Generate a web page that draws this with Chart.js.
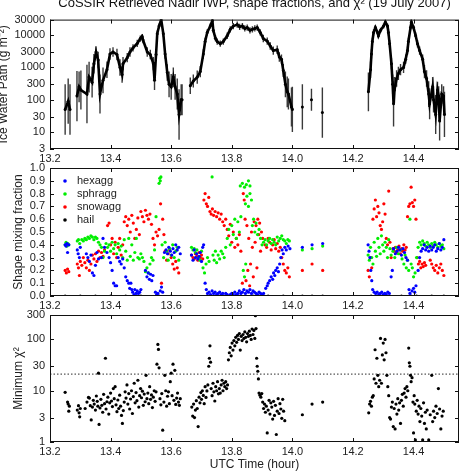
<!DOCTYPE html>
<html>
<head>
<meta charset="utf-8">
<script src="https://cdn.jsdelivr.net/npm/chart.js@4.4.0/dist/chart.umd.min.js"></script>
<style>
  body { margin: 0; background: #fff; width: 467px; height: 473px; overflow: hidden; position: relative; }
  canvas { position: absolute; left: 0; }
</style>
</head>
<body>
<canvas id="iwpChart" width="467" height="164" style="top:0"></canvas>
<canvas id="shapeChart" width="467" height="161" style="top:150px"></canvas>
<canvas id="chiChart" width="467" height="175" style="top:298px"></canvas>
<script>
// ---- data ----
const xTicks = [13.2, 13.4, 13.6, 13.8, 14.0, 14.2, 14.4];
const xMin = 13.2, xMax = 14.55;
const iwpTicks = [3, 10, 30, 100, 300, 1000, 3000, 10000, 30000];
const fracTicks = [0, 0.1, 0.2, 0.3, 0.4, 0.5, 0.6, 0.7, 0.8, 0.9, 1.0];
const chiTicks = [1, 3, 10, 30, 100, 300];
const chiThreshold = 21;

// time (h), IWP (g m^-2), error factor
const iwp = [
  [13.250, 50, 6], [13.260, 90, 5], [13.266, 50, 6],
  [13.289, 130, 6], [13.296, 250, 3], [13.302, 200, 4],
  [13.322, 150, 8], [13.329, 500, 3], [13.339, 350, 3], [13.345, 1300, 2], [13.352, 3000, 1.5],
  [13.359, 1700, 1.8], [13.365, 150, 4], [13.375, 400, 2.5], [13.388, 850, 1.8], [13.398, 2600, 1.5],
  [13.408, 3000, 1.4], [13.421, 2500, 1.5], [13.431, 1000, 1.8], [13.438, 600, 1.8], [13.441, 1300, 1.6],
  [13.455, 2000, 1.4], [13.464, 3000, 1.4], [13.474, 4000, 1.3], [13.488, 5500, 1.3], [13.498, 7800, 1.25],
  [13.504, 9000, 1.2], [13.507, 7000, 1.25], [13.521, 3000, 1.4], [13.531, 2500, 1.4], [13.541, 1300, 1.6],
  [13.545, 400, 2], [13.550, 2500, 1.4], [13.554, 11000, 1.25], [13.560, 19000, 1.2], [13.567, 30000, 1.2],
  [13.574, 11000, 1.25], [13.580, 2600, 1.4], [13.587, 700, 1.8], [13.593, 300, 2.5], [13.600, 250, 2.5],
  [13.607, 500, 2], [13.613, 250, 2.5], [13.620, 150, 3], [13.626, 35, 6], [13.633, 100, 3], [13.636, 100, 3],
  [13.663, 270, 1.8], [13.673, 380, 1.6], [13.686, 500, 1.6], [13.696, 740, 1.5], [13.706, 2600, 1.4],
  [13.712, 6300, 1.3], [13.719, 12000, 1.25], [13.729, 19000, 1.2], [13.736, 28000, 1.2], [13.739, 14000, 1.2],
  [13.746, 8000, 1.25], [13.752, 6300, 1.25], [13.762, 5400, 1.25], [13.772, 6300, 1.25], [13.785, 9500, 1.25],
  [13.795, 15000, 1.25], [13.805, 19000, 1.25], [13.818, 21000, 1.25], [13.826, 18000, 1.25], [13.835, 19000, 1.25],
  [13.843, 16000, 1.25], [13.851, 17000, 1.25], [13.860, 14000, 1.25], [13.868, 15000, 1.25], [13.876, 16000, 1.25],
  [13.884, 17000, 1.25], [13.894, 12000, 1.25], [13.904, 7800, 1.3], [13.917, 6500, 1.3], [13.927, 4600, 1.3],
  [13.937, 3300, 1.35], [13.950, 3500, 1.35], [13.957, 2100, 1.4], [13.964, 1800, 1.4], [13.970, 800, 1.6],
  [13.977, 300, 2.5], [13.983, 175, 3], [13.987, 150, 3], [13.997, 60, 4], [14.000, 50, 5],
  [14.033, 60, 5], [14.063, 100, 2.2], [14.099, 40, 6],
  [14.251, 175, 4], [14.258, 850, 1.8], [14.261, 2600, 1.4], [14.264, 6300, 1.3], [14.268, 12000, 1.25],
  [14.274, 17000, 1.2], [14.281, 12000, 1.2], [14.284, 9500, 1.2], [14.291, 14000, 1.2], [14.301, 19000, 1.2],
  [14.307, 25000, 1.2], [14.314, 19000, 1.2], [14.317, 12000, 1.25], [14.321, 5400, 1.3], [14.327, 1300, 1.5],
  [14.331, 300, 2], [14.334, 75, 5], [14.337, 200, 2.5], [14.344, 450, 1.8], [14.350, 650, 1.6],
  [14.357, 850, 1.5], [14.367, 1000, 1.5], [14.374, 1800, 1.4], [14.380, 3300, 1.35], [14.383, 6300, 1.3],
  [14.390, 17000, 1.2], [14.393, 25000, 1.2], [14.400, 17000, 1.2], [14.407, 9500, 1.25], [14.413, 5400, 1.3],
  [14.420, 3300, 1.35], [14.430, 1800, 1.4], [14.436, 740, 1.6], [14.443, 450, 1.8], [14.450, 150, 2.5],
  [14.453, 75, 3], [14.463, 250, 2], [14.466, 100, 2.5], [14.473, 35, 4], [14.479, 200, 1.8],
  [14.483, 130, 2], [14.486, 22, 4], [14.493, 150, 2], [14.499, 130, 2], [14.502, 35, 5]
];

// shape mixing fractions: [time, fraction]
const hexagg = [
  [13.250,0.40],[13.253,0.39],[13.256,0.41],[13.258,0.34],[13.262,0.40],
  [13.290,0.36],[13.293,0.33],[13.297,0.30],[13.300,0.38],
  [13.320,0.33],[13.325,0.30],[13.330,0.27],[13.335,0.32],[13.340,0.18],[13.345,0.16],[13.350,0.24],[13.355,0.34],[13.360,0.29],
  [13.370,0.30],[13.375,0.45],[13.380,0.38],[13.388,0.34],
  [13.395,0.30],[13.400,0.26],[13.405,0.20],[13.410,0.10],[13.415,0.08],[13.420,0.08],[13.425,0.30],[13.430,0.27],[13.435,0.25],[13.440,0.29],[13.445,0.22],
  [13.450,0.15],[13.455,0.12],[13.460,0.10],[13.463,0.06],[13.467,0.10],[13.470,0.05],[13.473,0.03],[13.477,0.01],[13.480,0.05],[13.484,0.02],[13.488,0.04],[13.492,0.02],[13.496,0.03],[13.500,0.05],
  [13.515,0.20],[13.520,0.15],[13.524,0.18],[13.528,0.13],[13.532,0.17],[13.536,0.12],[13.540,0.16],
  [13.548,0.03],[13.552,0.01],[13.556,0.02],[13.560,0.00],[13.564,0.04],[13.568,0.07],[13.572,0.03],
  [13.578,0.34],[13.583,0.36],[13.588,0.33],[13.592,0.38],[13.597,0.35],[13.602,0.32],[13.606,0.37],[13.610,0.34],[13.615,0.40],[13.620,0.36],[13.625,0.38],[13.630,0.33],
  [13.667,0.32],[13.672,0.28],[13.676,0.36],[13.680,0.30],[13.684,0.33],[13.688,0.29],[13.692,0.31],[13.696,0.34],[13.700,0.27],[13.704,0.38],[13.707,0.40],
  [13.712,0.10],[13.716,0.05],[13.720,0.02],[13.725,0.03],[13.730,0.01],[13.735,0.04],[13.740,0.02],[13.745,0.03],[13.750,0.01],[13.755,0.02],[13.760,0.03],[13.765,0.01],[13.770,0.02],[13.775,0.00],[13.780,0.02],[13.785,0.01],[13.790,0.00],[13.795,0.01],[13.800,0.02],[13.805,0.01],[13.810,0.03],[13.815,0.01],[13.820,0.02],[13.825,0.04],[13.830,0.02],[13.835,0.03],[13.840,0.05],[13.845,0.02],[13.850,0.04],[13.855,0.03],[13.860,0.05],[13.865,0.02],[13.870,0.04],[13.875,0.03],[13.880,0.02],[13.885,0.01],[13.890,0.03],[13.895,0.02],[13.900,0.01],[13.905,0.02],
  [13.912,0.06],[13.917,0.08],[13.920,0.10],[13.925,0.12],[13.930,0.15],[13.935,0.13],[13.938,0.18],[13.942,0.16],[13.945,0.20],[13.950,0.22],[13.954,0.19],[13.958,0.25],[13.962,0.30],[13.966,0.36],[13.970,0.33],[13.975,0.38],[13.980,0.36],[13.986,0.39],[13.992,0.37],
  [14.033,0.38],[14.065,0.40],[14.100,0.41],
  [14.250,0.40],[14.253,0.35],[14.256,0.30],[14.259,0.20],[14.262,0.12],[14.265,0.05],
  [14.270,0.03],[14.275,0.02],[14.280,0.03],[14.285,0.01],[14.290,0.02],[14.295,0.03],[14.300,0.01],[14.305,0.02],[14.310,0.01],[14.315,0.03],[14.320,0.02],
  [14.326,0.15],[14.330,0.20],[14.334,0.37],[14.340,0.33],[14.345,0.35],[14.350,0.38],[14.355,0.36],[14.360,0.32],[14.365,0.37],[14.370,0.34],[14.375,0.30],[14.380,0.28],
  [14.385,0.05],[14.388,0.02],[14.392,0.00],[14.395,0.04],[14.400,0.06],[14.404,0.03],[14.408,0.08],
  [14.415,0.20],[14.420,0.30],[14.425,0.35],[14.430,0.37],[14.435,0.40],[14.440,0.36],[14.445,0.38],[14.450,0.35],[14.455,0.39],[14.460,0.36],[14.465,0.38],[14.470,0.40],[14.475,0.35],[14.480,0.37],[14.485,0.41],[14.490,0.36],[14.495,0.38],[14.500,0.44]
];
const sphragg = [
  [13.250,0.40],[13.253,0.42],[13.256,0.39],[13.259,0.41],[13.262,0.40],
  [13.290,0.43],[13.294,0.44],[13.298,0.41],
  [13.305,0.44],[13.310,0.43],[13.315,0.45],[13.320,0.44],[13.325,0.46],[13.330,0.45],[13.335,0.47],[13.340,0.46],[13.345,0.44],[13.350,0.46],[13.355,0.45],[13.360,0.42],[13.365,0.40],
  [13.370,0.38],[13.375,0.30],[13.380,0.35],[13.385,0.41],[13.390,0.38],[13.395,0.40],[13.400,0.35],[13.405,0.42],[13.410,0.37],[13.415,0.40],[13.420,0.33],[13.425,0.41],[13.430,0.36],[13.435,0.39],[13.440,0.30],[13.445,0.44],
  [13.450,0.35],[13.455,0.28],[13.460,0.45],[13.465,0.31],[13.470,0.40],[13.475,0.28],[13.480,0.34],[13.485,0.45],[13.490,0.30],[13.495,0.29],[13.500,0.33],
  [13.505,0.30],[13.510,0.27],[13.515,0.19],[13.520,0.22],[13.525,0.18],[13.530,0.25],[13.535,0.30],[13.540,0.28],[13.545,0.36],[13.550,0.62],
  [13.560,0.88],[13.562,0.92],[13.564,0.90],[13.566,0.93],
  [13.570,0.40],[13.575,0.30],[13.580,0.42],[13.585,0.35],[13.590,0.28],[13.595,0.37],[13.600,0.32],[13.605,0.40],[13.610,0.30],[13.615,0.35],[13.620,0.38],[13.625,0.28],
  [13.667,0.38],[13.672,0.36],[13.676,0.37],[13.680,0.34],[13.685,0.36],[13.690,0.30],[13.695,0.28],[13.700,0.35],[13.705,0.22],[13.710,0.18],[13.715,0.25],[13.720,0.30],[13.725,0.27],
  [13.735,0.93],
  [13.738,0.32],[13.742,0.28],[13.746,0.35],[13.750,0.26],[13.755,0.32],[13.760,0.29],[13.765,0.35],[13.770,0.33],[13.775,0.30],[13.780,0.38],[13.785,0.45],[13.790,0.52],[13.795,0.40],[13.800,0.55],[13.805,0.48],[13.810,0.60],[13.815,0.45],[13.820,0.58],[13.825,0.50],[13.830,0.62],
  [13.828,0.86],[13.835,0.88],[13.842,0.85],[13.848,0.87],[13.855,0.90],[13.860,0.86],
  [13.838,0.20],[13.842,0.15],[13.846,0.25],
  [13.845,0.72],[13.850,0.78],[13.855,0.70],[13.860,0.80],[13.865,0.75],
  [13.868,0.55],[13.872,0.60],[13.876,0.50],[13.880,0.57],[13.885,0.48],[13.890,0.52],[13.895,0.45],[13.900,0.40],
  [13.905,0.42],[13.910,0.44],[13.915,0.40],[13.920,0.43],[13.925,0.45],[13.930,0.41],[13.935,0.44],[13.940,0.42],[13.945,0.40],[13.950,0.46],[13.955,0.43],[13.960,0.45],[13.965,0.47],[13.970,0.44],[13.975,0.43],[13.980,0.41],[13.985,0.44],[13.990,0.43],
  [14.033,0.36],[14.065,0.37],[14.100,0.39],
  [14.250,0.32],[14.254,0.28],[14.258,0.38],[14.262,0.30],[14.266,0.25],[14.270,0.42],[14.274,0.35],[14.278,0.31],[14.282,0.45],[14.286,0.38],[14.290,0.33],[14.294,0.47],[14.298,0.40],[14.302,0.35],[14.306,0.42],[14.310,0.38],[14.314,0.30],[14.318,0.44],[14.322,0.37],[14.326,0.32],
  [14.332,0.35],[14.338,0.30],[14.344,0.38],[14.350,0.33],[14.356,0.36],[14.362,0.29],[14.368,0.25],[14.372,0.32],[14.376,0.22],[14.380,0.28],[14.384,0.20],[14.388,0.60],[14.392,0.25],[14.396,0.22],[14.400,0.15],[14.405,0.18],[14.410,0.30],
  [14.415,0.38],[14.420,0.42],[14.425,0.40],[14.430,0.43],[14.435,0.41],[14.440,0.39],[14.445,0.42],[14.450,0.40],[14.455,0.38],[14.460,0.41],[14.465,0.39],[14.470,0.42],[14.475,0.40],[14.480,0.38],[14.485,0.41],[14.490,0.39],[14.495,0.40],[14.500,0.37]
];
const snowagg = [
  [13.250,0.20],[13.254,0.18],[13.258,0.21],[13.262,0.19],
  [13.290,0.25],[13.294,0.22],[13.297,0.16],[13.300,0.27],
  [13.305,0.24],[13.310,0.30],[13.315,0.26],[13.320,0.22],[13.325,0.28],[13.330,0.20],[13.335,0.25],[13.340,0.32],[13.345,0.29],[13.350,0.33],[13.355,0.27],[13.360,0.35],[13.365,0.30],[13.370,0.34],[13.375,0.31],[13.380,0.36],
  [13.390,0.55],[13.395,0.57],[13.400,0.40],[13.405,0.45],[13.410,0.33],[13.415,0.42],[13.420,0.30],[13.425,0.38],[13.430,0.45],[13.435,0.32],[13.440,0.40],
  [13.445,0.58],[13.450,0.62],[13.455,0.55],[13.460,0.60],[13.465,0.50],[13.470,0.63],[13.475,0.57],[13.480,0.45],[13.485,0.52],[13.490,0.61],[13.495,0.48],[13.500,0.66],[13.505,0.62],[13.510,0.58],[13.515,0.67],[13.520,0.63],[13.525,0.60],[13.530,0.64],[13.535,0.56],[13.540,0.45],
  [13.545,0.40],[13.550,0.50],[13.555,0.47],[13.560,0.52],[13.565,0.72],[13.568,0.10],[13.572,0.60],[13.576,0.48],[13.580,0.35],[13.585,0.28],[13.590,0.33],[13.595,0.36],[13.600,0.30],[13.605,0.25],[13.610,0.21],[13.615,0.27],[13.620,0.22],[13.625,0.18],
  [13.667,0.32],[13.672,0.30],[13.676,0.29],[13.680,0.33],[13.684,0.31],[13.688,0.28],[13.692,0.34],[13.696,0.30],[13.700,0.32],[13.704,0.29],
  [13.708,0.75],[13.712,0.80],[13.716,0.72],[13.720,0.70],[13.724,0.77],
  [13.728,0.66],[13.732,0.64],[13.736,0.68],[13.740,0.63],[13.745,0.66],[13.750,0.62],[13.755,0.65],[13.760,0.60],[13.765,0.64],[13.770,0.58],[13.775,0.55],[13.780,0.60],[13.785,0.52],[13.790,0.47],[13.795,0.56],[13.800,0.42],[13.805,0.50],[13.810,0.38],[13.815,0.45],[13.820,0.40],[13.825,0.48],[13.830,0.35],
  [13.835,0.10],[13.838,0.80],[13.841,0.75],[13.844,0.60],[13.847,0.12],[13.850,0.55],[13.853,0.20],[13.856,0.45],[13.859,0.08],[13.862,0.25],[13.865,0.50],[13.868,0.38],[13.871,0.15],[13.874,0.58],[13.877,0.42],[13.880,0.55],[13.883,0.22],[13.886,0.60],[13.889,0.48],[13.892,0.57],[13.895,0.35],[13.898,0.50],[13.902,0.45],
  [13.910,0.40],[13.915,0.38],[13.920,0.45],[13.925,0.42],[13.930,0.36],[13.935,0.40],[13.940,0.44],[13.945,0.37],[13.950,0.41],[13.955,0.35],[13.960,0.38],[13.965,0.30],[13.970,0.25],[13.975,0.20],[13.980,0.18],[13.985,0.22],[13.990,0.15],
  [14.033,0.20],[14.065,0.25],[14.100,0.20],
  [14.250,0.20],[14.254,0.15],[14.258,0.30],[14.262,0.22],
  [14.266,0.60],[14.270,0.68],[14.274,0.75],[14.278,0.62],[14.282,0.70],[14.286,0.65],[14.290,0.55],[14.294,0.52],[14.298,0.58],[14.302,0.72],[14.306,0.64],[14.310,0.45],[14.314,0.40],[14.318,0.82],[14.322,0.42],[14.326,0.30],
  [14.332,0.37],[14.336,0.35],[14.340,0.38],[14.344,0.34],[14.348,0.36],[14.352,0.39],[14.356,0.33],[14.360,0.37],[14.364,0.35],[14.368,0.40],[14.372,0.36],[14.376,0.38],
  [14.380,0.62],[14.384,0.70],[14.388,0.72],[14.392,0.85],[14.396,0.73],[14.400,0.70],[14.404,0.75],[14.408,0.60],
  [14.412,0.30],[14.416,0.25],[14.420,0.27],[14.424,0.22],[14.428,0.25],[14.432,0.23],[14.436,0.26],[14.440,0.24],
  [14.455,0.28],[14.460,0.25],[14.465,0.22],[14.470,0.20],[14.475,0.24],[14.480,0.18],[14.485,0.22],[14.490,0.25],[14.495,0.20],[14.500,0.16]
];
const hail = [
  [13.250,0],[13.300,0],[13.350,0],[13.400,0],[13.450,0],[13.500,0],[13.550,0],[13.600,0],
  [13.670,0],[13.720,0],[13.770,0],[13.820,0],[13.870,0],[13.920,0],[13.970,0],
  [14.033,0],[14.065,0],[14.100,0],[14.260,0],[14.310,0],[14.360,0],[14.410,0],[14.460,0],[14.500,0]
];

// minimum chi-square: [time, value]
const chiSq = [
  [13.250,9.3],[13.258,6.0],[13.260,5.5],[13.262,4.0],[13.264,5.0],
  [13.290,4.2],[13.294,5.1],[13.296,3.7],[13.298,3.1],[13.300,4.5],
  [13.316,4.5],[13.322,6.0],[13.327,7.4],[13.330,7.2],[13.333,5.1],[13.336,2.7],[13.340,4.8],[13.343,6.5],[13.346,5.5],[13.350,4.2],
  [13.353,7.9],[13.356,6.2],[13.358,5.0],[13.360,22],[13.362,2.2],[13.365,4.6],[13.368,6.8],[13.371,5.2],[13.374,3.8],[13.377,8.5],
  [13.380,5.6],[13.383,43],[13.385,4.4],[13.388,6.1],[13.391,7.5],[13.394,3.5],[13.397,5.8],[13.400,9.0],[13.403,6.3],[13.406,4.9],
  [13.409,11],[13.412,7.0],[13.415,12],[13.418,5.3],[13.421,3.9],[13.424,6.6],[13.427,4.5],[13.430,8.2],[13.433,5.0],[13.436,3.3],
  [13.439,2.3],[13.442,4.1],[13.445,6.0],[13.448,9.5],[13.451,7.2],[13.454,13],[13.457,5.5],[13.460,8.8],[13.463,4.4],[13.466,6.9],
  [13.469,10],[13.472,3.6],[13.475,7.7],[13.478,14],[13.481,5.8],[13.484,9.2],[13.487,6.4],[13.490,16],[13.493,4.8],[13.496,8.0],
  [13.499,11],[13.502,7.3],[13.505,9.8],[13.508,5.2],[13.511,8.6],[13.514,6.1],[13.517,20],[13.520,7.0],[13.523,9.0],[13.526,5.6],
  [13.529,12],[13.532,6.8],[13.535,8.3],[13.538,4.7],[13.541,7.5],[13.544,10],[13.547,6.2],[13.550,9.5],[13.553,33],[13.556,80],
  [13.558,64],[13.560,28],[13.563,7.0],[13.566,5.3],[13.569,8.8],[13.572,1.7],[13.573,1.0],[13.576,6.0],[13.579,20],[13.582,10],
  [13.585,5.0],[13.588,7.8],[13.591,9.5],[13.594,5.6],[13.597,15],[13.600,22],[13.603,8.0],[13.606,33],[13.609,6.5],[13.612,25],
  [13.615,5.4],[13.618,7.2],[13.621,9.0],[13.624,6.0],[13.627,5.2],[13.630,7.0],
  [13.668,4.8],[13.671,3.2],[13.674,5.5],[13.677,3.0],[13.680,4.2],[13.683,6.4],[13.686,4.5],[13.689,2.0],[13.692,7.5],[13.695,5.8],
  [13.698,9.2],[13.700,6.8],[13.703,10],[13.706,8.1],[13.709,5.6],[13.712,12],[13.715,7.4],[13.718,9.9],[13.721,13],[13.724,30],
  [13.726,43],[13.728,75],[13.730,36],[13.732,11],[13.735,8.0],[13.738,14],[13.741,9.5],[13.744,6.3],[13.747,12],[13.750,10],
  [13.753,15],[13.756,8.7],[13.759,11],[13.762,9.0],[13.765,13],[13.768,16],[13.771,10],[13.774,14],[13.777,12],[13.780,15],
  [13.783,11],[13.786,13],[13.789,40],
  [13.792,55],[13.795,70],[13.798,48],[13.801,85],[13.804,62],[13.807,95],[13.810,75],[13.813,110],[13.816,88],[13.819,120],
  [13.822,100],[13.825,130],[13.828,62],[13.831,115],[13.834,95],[13.837,125],[13.840,105],[13.843,140],[13.846,110],[13.849,90],
  [13.852,130],[13.855,115],[13.858,145],[13.861,120],[13.864,100],[13.867,160],[13.870,125],[13.873,150],[13.876,105],[13.878,290],
  [13.880,163],[13.882,43],[13.884,30],[13.886,24],[13.888,17],
  [13.890,9.0],[13.893,8.2],[13.896,7.5],[13.899,8.8],[13.902,6.0],[13.905,4.5],[13.908,5.5],[13.911,3.8],[13.914,5.0],[13.917,1.5],
  [13.920,4.2],[13.923,6.5],[13.926,3.5],[13.929,5.8],[13.932,4.8],[13.935,2.8],[13.938,6.2],[13.941,3.3],[13.944,5.2],[13.947,1.4],
  [13.950,4.0],[13.953,7.0],[13.956,3.6],[13.959,5.6],[13.962,4.4],[13.965,2.9],[13.968,6.8],[13.971,4.0],[13.975,2.6],
  [14.033,3.4],[14.065,5.5],[14.100,6.0],
  [14.252,3.7],[14.255,5.5],[14.258,6.2],[14.261,5.0],[14.264,7.5],[14.267,8.0],[14.270,17],[14.273,63],[14.276,14],[14.279,43],
  [14.282,20],[14.285,12],[14.288,16],[14.291,105],[14.294,14],[14.297,50],[14.300,85],[14.303,40],[14.306,100],[14.309,55],
  [14.312,20],[14.315,12],[14.318,8.0],[14.321,3.0],[14.324,2.8],[14.327,4.8],[14.330,6.0],[14.333,2.0],[14.336,4.5],[14.339,1.8],
  [14.342,5.5],[14.345,3.5],[14.348,7.0],[14.351,4.2],[14.354,5.8],[14.357,2.3],[14.360,6.5],[14.363,8.5],[14.366,5.0],[14.369,9.0],
  [14.372,11],[14.375,7.5],[14.378,12],[14.381,10],[14.384,68],[14.386,35],[14.388,30],[14.390,20],[14.392,15],[14.395,18],
  [14.398,6.0],[14.400,1.5],[14.402,8.0],[14.404,5.5],[14.406,1.1],[14.409,4.0],[14.412,6.5],[14.415,3.5],[14.418,5.0],[14.421,2.5],
  [14.424,4.5],[14.427,3.2],[14.430,1.1],[14.433,5.8],[14.436,2.3],[14.439,3.8],[14.442,1.8],[14.445,4.2],[14.450,1.1],[14.455,3.4],
  [14.460,20],[14.463,2.5],[14.466,4.0],[14.470,3.0],[14.474,5.0],[14.478,3.6],[14.482,11],[14.486,4.4],[14.490,1.8],[14.494,3.2],[14.498,4.0]
];

// ---- shared chart settings ----
Chart.defaults.font.family = "'Liberation Sans', Arial, sans-serif";
Chart.defaults.font.size = 11;
Chart.defaults.color = '#222';

const toXY = arr => arr.map(p => ({x: p[0], y: p[1]}));

// break the IWP line where there is a gap in the flight data
function iwpLine() {
  const out = [];
  iwp.forEach((p, i) => {
    if (i > 0 && p[0] - iwp[i - 1][0] > 0.02) out.push({x: (p[0] + iwp[i - 1][0]) / 2, y: null});
    out.push({x: p[0], y: p[1]});
  });
  return out;
}

function xAxis(showTitle) {
  return {
    type: 'linear', min: xMin, max: xMax,
    grid: {display: false, drawTicks: false}, border: {display: false},
    afterBuildTicks: s => { s.ticks = xTicks.map(v => ({value: v})); },
    afterFit: s => { s.height = showTitle ? 31 : 15; },
    ticks: {padding: 3, autoSkip: false, maxRotation: 0, callback: v => v.toFixed(1), font: {size: 11}},
    title: {display: showTitle, text: 'UTC Time (hour)', font: {size: 12}, padding: {top: 0, bottom: 1}}
  };
}

function yAxis(type, min, max, ticks, label, titlePad, fmt) {
  return {
    type: type, min: min, max: max,
    grid: {display: false, drawTicks: false}, border: {display: false},
    afterBuildTicks: s => { s.ticks = ticks.map(v => ({value: v})); },
    afterFit: s => { s.width = 50; },
    ticks: {padding: 5, autoSkip: false, callback: fmt, font: {size: 11}},
    title: {display: true, text: label, font: {size: 12}, padding: {top: titlePad, bottom: 0}}
  };
}

// box around the plot with small inward ticks
const framePlugin = {
  id: 'frame',
  afterDraw(chart) {
    const {ctx, chartArea: a, scales} = chart;
    ctx.save();
    ctx.strokeStyle = '#111';
    ctx.lineWidth = 1;
    ctx.strokeRect(a.left + 0.5, a.top + 0.5, a.right - a.left - 1, a.bottom - a.top - 1);
    ctx.beginPath();
    scales.x.ticks.forEach(t => {
      const x = Math.round(scales.x.getPixelForValue(t.value)) + 0.5;
      ctx.moveTo(x, a.bottom); ctx.lineTo(x, a.bottom - 4);
      ctx.moveTo(x, a.top); ctx.lineTo(x, a.top + 4);
    });
    scales.y.ticks.forEach(t => {
      const y = Math.round(scales.y.getPixelForValue(t.value)) + 0.5;
      ctx.moveTo(a.left, y); ctx.lineTo(a.left + 4, y);
      ctx.moveTo(a.right, y); ctx.lineTo(a.right - 4, y);
    });
    ctx.stroke();
    ctx.restore();
  }
};

// vertical error bars for IWP, placed through the chart scales
const errorBarPlugin = {
  id: 'errorBars',
  beforeDatasetsDraw(chart) {
    const {ctx, chartArea: a, scales: {x, y}} = chart;
    ctx.save();
    ctx.beginPath();
    ctx.rect(a.left, a.top, a.right - a.left, a.bottom - a.top);
    ctx.clip();
    ctx.strokeStyle = '#3a3a3a';
    ctx.lineWidth = 1.4;
    ctx.beginPath();
    iwp.forEach(p => {
      const px = x.getPixelForValue(p[0]);
      ctx.moveTo(px, y.getPixelForValue(p[1] / p[2]));
      ctx.lineTo(px, y.getPixelForValue(p[1] * p[2]));
    });
    ctx.stroke();
    ctx.restore();
  }
};

// legend drawn inside the plot area, upper left
const innerLegend = {
  id: 'innerLegend',
  afterDraw(chart) {
    const {ctx, chartArea: a} = chart;
    ctx.save();
    ctx.font = "11px 'Liberation Sans', Arial, sans-serif";
    ctx.textBaseline = 'middle';
    chart.data.datasets.forEach((ds, i) => {
      const y = a.top + 13 + i * 13;
      ctx.fillStyle = ds.backgroundColor;
      ctx.beginPath();
      ctx.arc(a.left + 15, y, 1.8, 0, Math.PI * 2);
      ctx.fill();
      ctx.fillStyle = '#222';
      ctx.fillText(ds.label, a.left + 27, y);
    });
    ctx.restore();
  }
};

const baseOptions = {
  responsive: false,
  animation: false,
  devicePixelRatio: 1,
  plugins: {legend: {display: false}, tooltip: {enabled: false}}
};

// ---- panel 1: ice water path ----
new Chart(document.getElementById('iwpChart'), {
  type: 'scatter',
  data: {
    datasets: [{
      label: 'IWP',
      data: iwpLine(),
      showLine: true,
      spanGaps: false,
      borderColor: '#000',
      borderWidth: 2.6,
      backgroundColor: '#000',
      pointRadius: 1.5,
      pointBorderWidth: 0
    }]
  },
  options: Object.assign({}, baseOptions, {
    layout: {padding: {top: 0, right: 8, left: 0, bottom: 0}},
    plugins: {
      legend: {display: false}, tooltip: {enabled: false},
      title: {
        display: true,
        fullSize: false,
        text: 'CoSSIR Retrieved Nadir IWP, shape fractions, and \u03C7\u00B2 (19 July 2007)',
        font: {size: 13, weight: 'normal'},
        color: '#111',
        padding: {top: -4, bottom: 8}
      }
    },
    scales: {
      x: xAxis(false),
      y: yAxis('logarithmic', 3, 30000, iwpTicks, 'Ice Water Path (g m\u207B\u00B2)', -4, v => String(v))
    }
  }),
  plugins: [errorBarPlugin, framePlugin]
});

// ---- panel 2: shape mixing fractions ----
const dot = (label, arr, color) => ({
  label: label, data: toXY(arr), backgroundColor: color, borderWidth: 0, pointRadius: 1.6
});
new Chart(document.getElementById('shapeChart'), {
  type: 'scatter',
  data: {
    datasets: [
      dot('hexagg', hexagg, '#0000ff'),
      dot('sphragg', sphragg, '#00ee00'),
      dot('snowagg', snowagg, '#ff0000'),
      dot('hail', hail, '#000000')
    ]
  },
  options: Object.assign({}, baseOptions, {
    layout: {padding: {top: 18, right: 8, left: 0, bottom: 0}},
    scales: {
      x: xAxis(false),
      y: yAxis('linear', 0, 1, fracTicks, 'Shape mixing fraction', 11, v => v.toFixed(1))
    }
  }),
  plugins: [innerLegend, framePlugin]
});

// ---- panel 3: minimum chi-square ----
new Chart(document.getElementById('chiChart'), {
  type: 'scatter',
  data: {
    datasets: [
      {label: 'chi2', data: toXY(chiSq), backgroundColor: '#000', borderWidth: 0, pointRadius: 1.6},
      {label: 'threshold', data: [{x: xMin, y: chiThreshold}, {x: xMax, y: chiThreshold}],
       showLine: true, borderColor: '#555', borderWidth: 1.2, borderDash: [1.5, 2], pointRadius: 0}
    ]
  },
  options: Object.assign({}, baseOptions, {
    layout: {padding: {top: 17, right: 8, left: 0, bottom: 0}},
    scales: {
      x: xAxis(true),
      y: yAxis('logarithmic', 1, 300, chiTicks, 'Minimum \u03C7\u00B2', 11, v => String(v))
    }
  }),
  plugins: [framePlugin]
});
</script>
</body>
</html>
